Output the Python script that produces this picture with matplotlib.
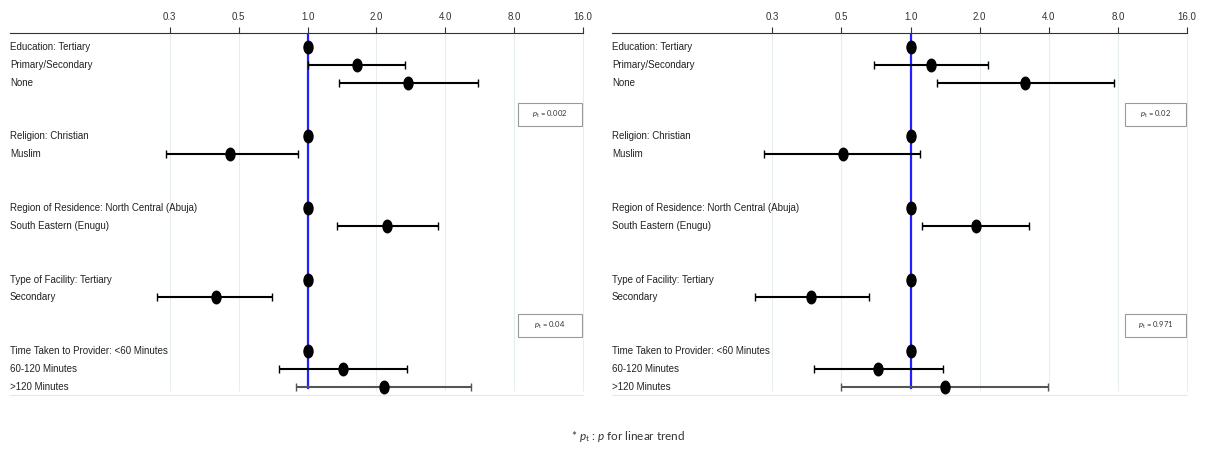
import matplotlib
matplotlib.use("Agg")
import matplotlib.pyplot as plt
import numpy as np
from matplotlib.path import Path
from matplotlib.patches import Rectangle
from matplotlib.ticker import FixedLocator, FixedFormatter, NullLocator
import matplotlib.transforms as mtransforms

# ---------------- data ----------------
row_labels = ["Education: Tertiary", "Primary/Secondary", "None",
              "Religion: Christian", "Muslim",
              "Region of Residence: North Central (Abuja)", "South Eastern (Enugu)",
              "Type of Facility: Tertiary", "Secondary",
              "Time Taken to Provider: <60 Minutes", "60-120 Minutes", ">120 Minutes"]
row_pos = [0, 1, 2, 5, 6, 9, 10, 13, 14, 17, 18, 19]

left_or = [1.0, 1.65, 2.76, 1.0, 0.46, 1.0, 2.23, 1.0, 0.40, 1.0, 1.43, 2.15]
left_lo = [np.nan, 1.00, 1.37, np.nan, 0.24, np.nan, 1.34, np.nan, 0.22, np.nan, 0.75, 0.89]
left_hi = [np.nan, 2.66, 5.57, np.nan, 0.91, np.nan, 3.70, np.nan, 0.70, np.nan, 2.72, 5.19]

right_or = [1.0, 1.23, 3.15, 1.0, 0.51, 1.0, 1.92, 1.0, 0.37, 1.0, 0.72, 1.41]
right_lo = [np.nan, 0.69, 1.30, np.nan, 0.23, np.nan, 1.12, np.nan, 0.21, np.nan, 0.38, 0.50]
right_hi = [np.nan, 2.18, 7.69, np.nan, 1.10, np.nan, 3.27, np.nan, 0.66, np.nan, 1.39, 3.98]

tick_values = [0.25, 0.5, 1, 2, 4, 8, 16]
tick_labels = ["0.3", "0.5", "1.0", "2.0", "4.0", "8.0", "16.0"]

left_p = ["0.002", "0.04"]
right_p = ["0.02", "0.971"]

# ---------------- style ----------------
plt.rcParams["font.family"] = ["Liberation Sans", "DejaVu Sans"]
plt.rcParams["mathtext.fontset"] = "custom"
plt.rcParams["mathtext.it"] = "Lato:italic"
plt.rcParams["mathtext.rm"] = "Lato"

W, H = 1210, 455
fig = plt.figure(figsize=(W / 100, H / 100), dpi=100)


def px_axes(l, t, r, b):
    return fig.add_axes([l / W, 1 - b / H, (r - l) / W, (b - t) / H])


circ = Path.unit_circle()
ell = Path(circ.vertices * np.array([0.72, 1.0]), circ.codes)

XMIN, XMAX = 2 ** -4.32, 16
YTOP, YBOT = -0.78, 19.45


def panel(ax, ors, los, his, pvals, box_x):
    ax.set_xscale("log", base=2)
    ax.set_xlim(XMIN, XMAX)
    ax.set_ylim(YBOT, YTOP)
    ax.xaxis.tick_top()
    ax.xaxis.set_major_locator(FixedLocator(tick_values))
    ax.xaxis.set_major_formatter(FixedFormatter(tick_labels))
    ax.xaxis.set_minor_locator(NullLocator())
    ax.tick_params(axis="x", direction="out", length=4, width=0.8, pad=4,
                   labelsize=7, colors="#333333", top=True, bottom=False)
    ax.set_yticks([])
    for s in ["left", "right"]:
        ax.spines[s].set_visible(False)
    ax.spines["top"].set_color("#333333")
    ax.spines["top"].set_linewidth(0.8)
    ax.spines["bottom"].set_color("#e8e8e8")
    ax.spines["bottom"].set_linewidth(0.8)

    # faint gridlines
    ax.vlines(tick_values, YTOP, 19.2, color="#e6eef2", lw=0.8, zorder=0,
              clip_on=False)
    # reference line
    ax.vlines([1.0], YTOP, 19.1, color="#1f1fff", lw=1.6, zorder=2)

    trans = mtransforms.blended_transform_factory(ax.transAxes, ax.transData)
    for lab, y in zip(row_labels, row_pos):
        ax.text(0.0, y, lab, transform=trans, ha="left", va="center",
                fontsize=7, color="#222222")

    for i, (o, lo, hi, y) in enumerate(zip(ors, los, his, row_pos)):
        col = "#555555" if i == len(ors) - 1 else "black"
        if not np.isnan(lo):
            ax.errorbar([o], [y], xerr=[[o - lo], [hi - o]], fmt="none",
                        ecolor=col, elinewidth=1.5, capsize=2.6, capthick=1.0,
                        zorder=3)
        ax.plot([o], [y], marker=ell, markersize=9, color="black",
                linestyle="none", zorder=4)

    # p-value boxes
    box_rows = [(3.15, 4.4), (14.95, 16.2)]
    for (y0, y1), pv in zip(box_rows, pvals):
        x0, x1 = box_x
        ax.add_patch(Rectangle((x0, y0), x1 - x0, y1 - y0, fill=False,
                               edgecolor="#9a9a9a", lw=0.8, zorder=5,
                               clip_on=False))
        ax.text(np.sqrt(x0 * x1), (y0 + y1) / 2, r"$p_\mathrm{t}$ = " + pv,
                ha="center", va="center", fontsize=5.5, color="#333333",
                family=["Lato", "DejaVu Sans"], zorder=6)


axL = px_axes(10, 33, 583, 395)
panel(axL, left_or, left_lo, left_hi, left_p, (8.3, 15.8))
axR = px_axes(612, 33, 1187, 395)
panel(axR, right_or, right_lo, right_hi, right_p, (8.6, 15.9))

fig.text(628 / W, 1 - 437 / H, r"* $p_\mathrm{t}$ : $p$ for linear trend",
         ha="center", va="center", fontsize=8.5, color="#333333",
         family=["Lato", "DejaVu Sans"])

fig.savefig("out.png", dpi=100)
